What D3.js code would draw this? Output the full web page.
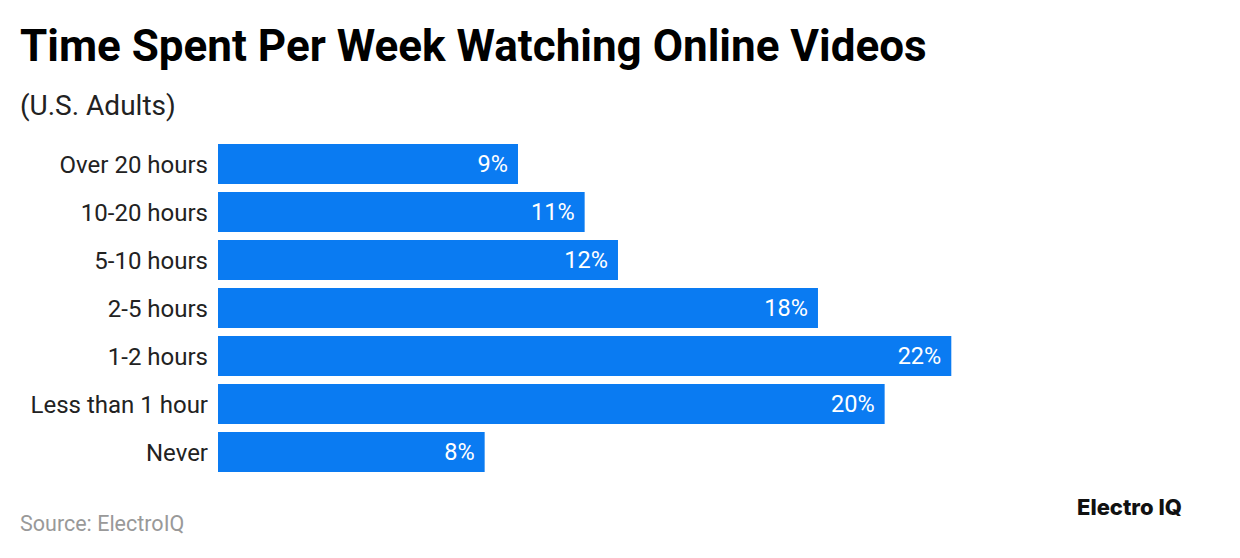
<!DOCTYPE html>
<html><head><meta charset="utf-8">
<script src="https://cdn.jsdelivr.net/npm/d3@7"></script>
<style>body{margin:0;background:#fff}svg{display:block}text{font-family:Roboto,sans-serif}</style>
</head><body>
<script>
const categories = ["Over 20 hours","10-20 hours","5-10 hours","2-5 hours","1-2 hours","Less than 1 hour","Never"];
const values = [9,11,12,18,22,20,8];
const valueLabels = ["9%","11%","12%","18%","22%","20%","8%"];

const W=1240,H=558;
const svg=d3.select("body").append("svg").attr("width",W).attr("height",H);
svg.append("text").attr("x",20).attr("y",61).attr("font-size",44).attr("font-weight",700).attr("fill","#000")
  .text("Time Spent Per Week Watching Online Videos");
svg.append("text").attr("x",20).attr("y",115).attr("font-size",28).attr("fill","#222").text("(U.S. Adults)");

const x=d3.scaleLinear().domain([0,22]).range([218,951.3]);
const y=d3.scaleBand().domain(categories).range([140,476]).paddingInner(8/48).paddingOuter(4/48);

svg.append("g").selectAll("rect").data(categories).join("rect")
  .attr("x",x(0)).attr("y",d=>y(d)).attr("height",y.bandwidth())
  .attr("width",(d,i)=>x(values[i])-x(0)).attr("fill","#0A7BF2");

svg.append("g").selectAll("text").data(categories).join("text")
  .attr("x",x(0)-10).attr("y",d=>y(d)+y.bandwidth()/2).attr("dy","0.36em")
  .attr("text-anchor","end").attr("font-size",24).attr("fill","#222").text(d=>d);

svg.append("g").selectAll("text").data(categories).join("text")
  .attr("x",(d,i)=>x(values[i])-10).attr("y",d=>y(d)+y.bandwidth()/2).attr("dy","0.36em")
  .attr("text-anchor","end").attr("font-size",23.5).attr("fill","#fff").text((d,i)=>valueLabels[i]);

svg.append("text").attr("x",20).attr("y",531).attr("font-size",21.5).attr("fill","#999").text("Source: ElectroIQ");
svg.append("text").attr("x",1077).attr("y",515).attr("font-size",22).attr("font-weight",800)
  .style("font-family","Inter, sans-serif").attr("fill","#111").text("Electro IQ");
</script>
</body></html>
